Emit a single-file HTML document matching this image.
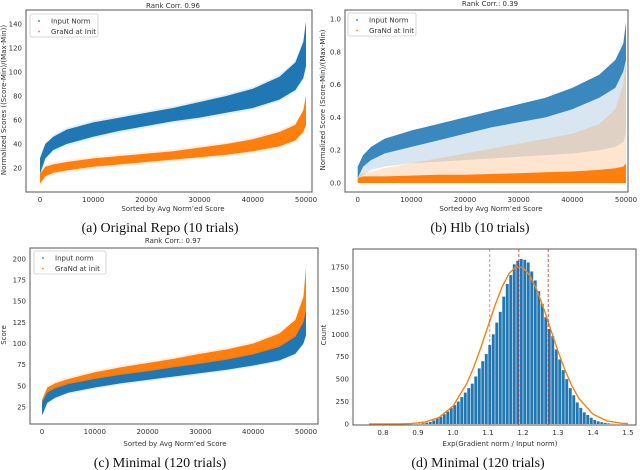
<!DOCTYPE html>
<html><head><meta charset="utf-8"><style>
body{margin:0;background:#fff}
svg{display:block;font-family:"DejaVu Sans","Liberation Sans",sans-serif}
.tk{font-size:7px;fill:#333}
.cap{font-family:"Liberation Serif",serif;font-size:14px;fill:#111}
</style></head><body>
<svg id="fig" width="640" height="470" viewBox="0 0 640 470"></svg>
<script>
// ---- data (x in thousands of samples) ----
const bandX = [0, 1, 2.5, 5, 10, 15, 20, 25, 30, 35, 40, 45, 48, 49.5, 50];
const aBlueLo = [15, 28, 35, 40, 46, 51, 55, 59, 62, 66, 70, 77, 85, 95, 105];
const aBlueHi = [28, 40, 46, 52, 58, 62, 66, 70, 75, 80, 86, 96, 108, 125, 142];
const aOrLo = [7, 13, 16, 18, 21, 23, 25, 27, 29, 31, 34, 38, 43, 50, 56];
const aOrHi = [15, 21, 23, 25, 28, 30, 32, 34, 37, 40, 44, 50, 56, 68, 80];
const bBlueLo = [0.02, 0.05, 0.08, 0.1, 0.12, 0.13, 0.14, 0.15, 0.16, 0.17, 0.18, 0.2, 0.22, 0.25, 0.3];
const bBlueCore = [0.03, 0.1, 0.14, 0.18, 0.22, 0.26, 0.3, 0.34, 0.37, 0.4, 0.45, 0.52, 0.58, 0.68, 0.75];
const bBlueHi = [0.1, 0.17, 0.22, 0.27, 0.32, 0.36, 0.4, 0.44, 0.48, 0.52, 0.58, 0.66, 0.75, 0.85, 0.98];
const bOrLo = [0, 0, 0, 0, 0, 0, 0, 0, 0, 0, 0, 0, 0, 0, 0];
const bOrCore = [0.03, 0.04, 0.04, 0.04, 0.045, 0.05, 0.05, 0.055, 0.06, 0.065, 0.07, 0.08, 0.09, 0.1, 0.12];
const bOrHi = [0.04, 0.06, 0.07, 0.09, 0.12, 0.15, 0.18, 0.21, 0.24, 0.27, 0.3, 0.36, 0.45, 0.6, 0.75];
const cBlueLo = [15, 30, 36, 42, 48, 53, 57, 61, 65, 69, 74, 80, 88, 100, 110];
const cBlueHi = [30, 42, 47, 52, 58, 63, 67, 72, 76, 81, 87, 96, 108, 125, 138];
const cOrLo = [18, 35, 42, 48, 55, 60, 65, 69, 73, 77, 83, 90, 100, 115, 125];
const cOrHi = [33, 48, 53, 58, 66, 72, 77, 82, 88, 93, 100, 112, 128, 155, 190];
const histStart = 0.90, histBin = 0.01;
const histCounts = [3, 8, 15, 22, 40, 60, 80, 110, 140, 180, 210, 250, 300, 350, 400, 450, 530, 620, 700, 780, 880, 1000, 1130, 1250, 1420, 1560, 1660, 1780, 1820, 1840, 1830, 1800, 1700, 1600, 1480, 1340, 1190, 1060, 980, 830, 720, 600, 500, 400, 320, 240, 180, 130, 100, 70, 45, 30, 20, 12, 7, 3];
const fitX = [0.76, 0.80, 0.84, 0.88, 0.92, 0.96, 1.00, 1.04, 1.06, 1.08, 1.10, 1.12, 1.14, 1.16, 1.18, 1.20, 1.22, 1.24, 1.26, 1.28, 1.30, 1.32, 1.34, 1.36, 1.40, 1.44, 1.48, 1.50];
const fitY = [0, 0, 1, 5, 21, 71, 199, 456, 641, 857, 1091, 1322, 1526, 1677, 1753, 1744, 1652, 1489, 1278, 1044, 812, 600, 421, 283, 109, 35, 9, 4];
const vLines = [1.105, 1.188, 1.272];
const xTicksK = [0, 10000, 20000, 30000, 40000, 50000];

const svg = document.getElementById('fig');
const NS = 'http://www.w3.org/2000/svg';
function mk(tag, attrs, parent) {
  const e = document.createElementNS(NS, tag);
  for (const k in attrs) e.setAttribute(k, attrs[k]);
  (parent || svg).appendChild(e);
  return e;
}
function txt(s, x, y, cls, extra, parent) {
  const t = mk('text', Object.assign({x: x, y: y, class: cls}, extra || {}), parent);
  t.textContent = s;
  return t;
}
function band(g, sx, sy, lo, hi, color, op, pad) {
  let d = '';
  bandX.forEach((v, i) => { d += (i ? 'L' : 'M') + sx(v * 1000).toFixed(1) + ',' + (sy(hi[i]) - pad).toFixed(1); });
  for (let i = bandX.length - 1; i >= 0; i--) d += 'L' + sx(bandX[i] * 1000).toFixed(1) + ',' + (sy(lo[i]) + pad).toFixed(1);
  return mk('path', {d: d + 'Z', fill: color, 'fill-opacity': op}, g);
}
function panel(name, box, sx, sy, yTicks, yFmt, xTicks, xFmt) {
  const g = mk('g', {});
  
  
  const ax = mk('g', {});
  
  
  xTicks.forEach(v => txt(xFmt(v), sx(v), box[3] + 10, 'tk', {'text-anchor': 'middle'}, ax));
  yTicks.forEach(v => txt(yFmt(v), box[0] - 4, sy(v) + 2.5, 'tk', {'text-anchor': 'end'}, ax));
  return {g: g, ax: ax, frame: () => mk('rect', {x: box[0], y: box[1], width: box[2] - box[0], height: box[3] - box[1], fill: 'none', stroke: '#555', 'stroke-width': 1}, g)};
}
function legend(g, x, y, w, labels, name) {
  const lg = mk('g', {}, g);
  
  
  mk('rect', {x: x, y: y, width: w, height: 23, fill: '#fff', 'fill-opacity': 0.85, stroke: '#ccc', 'stroke-width': 0.8, rx: 2}, lg);
  ['#1f77b4', '#ff7f0e'].forEach((c, i) => {
    mk('circle', {cx: x + 9, cy: y + 7 + i * 10.5, r: 0.9, fill: c}, lg);
    txt(labels[i], x + 21, y + 9.5 + i * 10.5, 'tk', {'font-size': '7.3'}, lg);
  });
}
const B = '#1f77b4', O = '#ff7f0e';

// Panel A
{
  const box = [26, 10, 312, 192];
  const sx = v => 40 + v / 50000 * 266, sy = v => 192 - v * 1.2;
  const p = panel('panel-a', box, sx, sy, [20, 40, 60, 80, 100, 120, 140], v => v, xTicksK, v => v);
  band(p.g, sx, sy, aBlueLo, aBlueHi, B, 0.12, 2);
  band(p.g, sx, sy, aBlueLo, aBlueHi, B, 1, 0);
  band(p.g, sx, sy, aOrLo, aOrHi, O, 0.12, 2);
  band(p.g, sx, sy, aOrLo, aOrHi, O, 1, 0);
  p.frame();
  legend(p.g, 30, 14, 68, ['Input Norm', 'GraNd at Init'], 'a-legend');
  txt('Rank Corr. 0.96', 173, 8, 'tk', {'text-anchor': 'middle', 'font-size': '7.5'}, p.g);
  txt('Sorted by Avg Norm\u2019ed Score', 173, 211, 'tk', {'text-anchor': 'middle', 'font-size': '7.3'}, p.g);
  txt('Normalized Scores ((Score-Min)/(Max-Min))', 0, 0, 'tk', {'text-anchor': 'middle', 'font-size': '7', transform: 'translate(6,100) rotate(-90)'}, p.g);
  txt('(a) Original Repo (10 trials)', 160, 232, 'cap', {'text-anchor': 'middle'}, p.g);
}
// Panel B
{
  const box = [345, 10, 628, 192];
  const sx = v => 357.7 + v / 50000 * 268.3, sy = v => 183 - v * 164;
  const p = panel('panel-b', box, sx, sy, [0, 0.2, 0.4, 0.6, 0.8, 1.0], v => v.toFixed(1), xTicksK, v => v);
  band(p.g, sx, sy, bBlueLo, bBlueHi, B, 0.18, 0);
  band(p.g, sx, sy, bBlueCore, bBlueHi, B, 0.85, 0);
  band(p.g, sx, sy, bOrLo, bOrHi, O, 0.2, 0);
  band(p.g, sx, sy, bOrLo, bOrCore, O, 1, 0);
  p.frame();
  legend(p.g, 348, 13, 68, ['Input Norm', 'GraNd at Init'], 'b-legend');
  txt('Rank Corr.: 0.39', 490, 6, 'tk', {'text-anchor': 'middle', 'font-size': '7.5'}, p.g);
  txt('Sorted by Avg Norm\u2019ed Score', 491, 211, 'tk', {'text-anchor': 'middle', 'font-size': '7.3'}, p.g);
  txt('Normalized Score (Score-Min)/(Max-Min)', 0, 0, 'tk', {'text-anchor': 'middle', 'font-size': '7', transform: 'translate(325,100) rotate(-90)'}, p.g);
  txt('(b) Hlb (10 trials)', 480, 232, 'cap', {'text-anchor': 'middle'}, p.g);
}
// Panel C
{
  const box = [30, 248, 318, 424];
  const sx = v => 42 + v / 50000 * 264, sy = v => 428.1 - v * 0.8457;
  const p = panel('panel-c', box, sx, sy, [25, 50, 75, 100, 125, 150, 175, 200], v => v, xTicksK, v => v);
  band(p.g, sx, sy, cOrLo, cOrHi, O, 0.12, 2);
  band(p.g, sx, sy, cOrLo, cOrHi, O, 1, 0);
  band(p.g, sx, sy, cBlueLo, cBlueHi, B, 0.12, 1.5);
  band(p.g, sx, sy, cBlueLo, cBlueHi, B, 1, 0);
  p.frame();
  legend(p.g, 34, 251, 72, ['Input norm', 'GraNd at init'], 'c-legend');
  txt('Rank Corr.: 0.97', 173, 243, 'tk', {'text-anchor': 'middle', 'font-size': '7.5'}, p.g);
  txt('Sorted by Avg Norm\u2019ed Score', 175, 446, 'tk', {'text-anchor': 'middle', 'font-size': '7.3'}, p.g);
  txt('Score', 0, 0, 'tk', {'text-anchor': 'middle', 'font-size': '7.3', transform: 'translate(6,335) rotate(-90)'}, p.g);
  txt('(c) Minimal (120 trials)', 160, 467, 'cap', {'text-anchor': 'middle'}, p.g);
}
// Panel D
{
  const box = [353, 249, 636, 425];
  const sx = v => 383 + (v - 0.8) * 350, sy = v => 424 - v * 157 / 1750;
  const p = panel('panel-d', box, sx, sy, [0, 250, 500, 750, 1000, 1250, 1500, 1750], v => v, [0.8, 0.9, 1.0, 1.1, 1.2, 1.3, 1.4, 1.5], v => v.toFixed(1));
  const bw = histBin * 350;
  histCounts.forEach((c, i) => {
    const x0 = sx(histStart + i * histBin);
    const r = mk('rect', {x: x0 + 0.3, y: sy(c), width: bw - 0.6, height: sy(0) - sy(c), fill: B}, p.g);
    
    
  });
  const pts = fitX.map((x, i) => sx(x).toFixed(1) + ',' + sy(fitY[i]).toFixed(1)).join(' ');
  const fl = mk('polyline', {points: pts, fill: 'none', stroke: O, 'stroke-width': 1.4}, p.g);
  
  
  vLines.forEach((v, i) => {
    const l = mk('line', {x1: sx(v), x2: sx(v), y1: box[1], y2: box[3], stroke: '#d62728', 'stroke-width': 0.9, 'stroke-dasharray': '3,2', 'stroke-opacity': i === 0 ? 0.6 : 0.9}, p.g);
    
    
  });
  p.frame();
  txt('Exp(Gradient norm / Input norm)', 500, 446, 'tk', {'text-anchor': 'middle', 'font-size': '7.3'}, p.g);
  txt('Count', 0, 0, 'tk', {'text-anchor': 'middle', 'font-size': '7.3', transform: 'translate(326,335) rotate(-90)'}, p.g);
  txt('(d) Minimal (120 trials)', 478, 467, 'cap', {'text-anchor': 'middle'}, p.g);
}
</script>
</body></html>
